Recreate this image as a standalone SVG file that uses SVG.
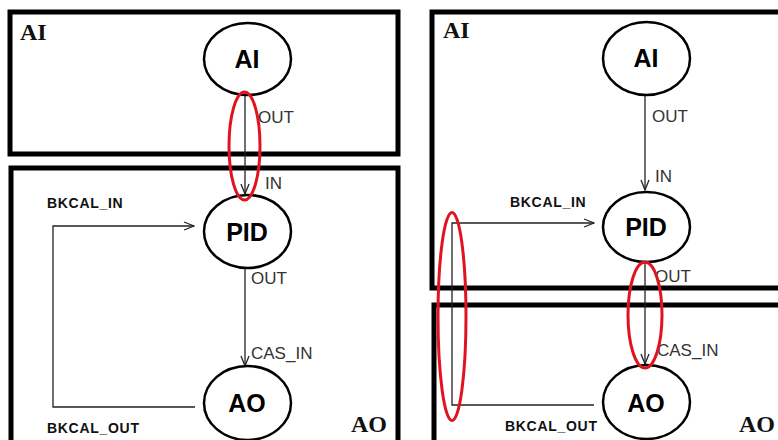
<svg xmlns="http://www.w3.org/2000/svg" width="778" height="440" viewBox="0 0 778 440">
<defs>
<marker id="arr" viewBox="0 0 12 10" refX="11" refY="5" markerWidth="12" markerHeight="10" markerUnits="userSpaceOnUse" orient="auto">
<path d="M1,1 L11,5 L1,9" fill="none" stroke="#222" stroke-width="1.3"/>
</marker>
<style>
.box{fill:none;stroke:#000;stroke-width:5}
.blk{font-family:"Liberation Serif",serif;font-weight:bold;font-size:24px;fill:#111}
.node ellipse{fill:#fff;stroke:#000;stroke-width:2.5}
.node text{font-family:"Liberation Sans",Arial,sans-serif;font-weight:bold;font-size:25px;fill:#000;text-anchor:middle}
.ln{fill:none;stroke:#222;stroke-width:1.3}
.pl{font-family:"Liberation Sans",Arial,sans-serif;font-size:17px;fill:#333}
.bk{font-family:"Liberation Sans",Arial,sans-serif;font-weight:bold;font-size:14px;letter-spacing:0.7px;fill:#111}
.hl{fill:none;stroke:#e0141e;stroke-width:3}
</style>
</defs>
<rect width="778" height="440" fill="#fff"/>
<g id="blocks">
<rect class="box" x="10" y="12" width="388" height="142"/>
<rect class="box" x="11" y="168" width="387" height="290"/>
<rect class="box" x="432" y="12" width="360" height="276"/>
<rect class="box" x="434" y="305" width="360" height="160"/>
<text class="blk" x="20" y="40">AI</text>
<text class="blk" x="351" y="432">AO</text>
<text class="blk" x="443" y="38">AI</text>
<text class="blk" x="739" y="432">AO</text>
</g>
<g id="connectors">
<line class="ln" x1="245" y1="95" x2="245" y2="194" marker-end="url(#arr)"/>
<line class="ln" x1="245" y1="268" x2="245" y2="366" marker-end="url(#arr)"/>
<polyline class="ln" points="195,407 53,407 53,226 194,226" marker-end="url(#arr)"/>
<line class="ln" x1="645" y1="95" x2="645" y2="190" marker-end="url(#arr)"/>
<line class="ln" x1="645" y1="262" x2="645" y2="364" marker-end="url(#arr)"/>
<polyline class="ln" points="594,405 452,405 452,223 594,223" marker-end="url(#arr)"/>
<text class="pl" x="258" y="123">OUT</text>
<text class="pl" x="265" y="189">IN</text>
<text class="pl" x="251" y="284">OUT</text>
<text class="pl" x="251" y="359">CAS_IN</text>
<text class="bk" x="47" y="208">BKCAL_IN</text>
<text class="bk" x="47" y="433">BKCAL_OUT</text>
<text class="pl" x="652" y="122">OUT</text>
<text class="pl" x="655" y="182">IN</text>
<text class="pl" x="655" y="282">OUT</text>
<text class="pl" x="657" y="356">CAS_IN</text>
<text class="bk" x="510" y="207">BKCAL_IN</text>
<text class="bk" x="505" y="431">BKCAL_OUT</text>
</g>
<g id="AI-left" class="node"><ellipse cx="247.5" cy="59" rx="43.5" ry="36"/><text x="247" y="68">AI</text></g>
<g id="PID-left" class="node"><ellipse cx="247.5" cy="231.5" rx="43.5" ry="36.5"/><text x="247" y="241">PID</text></g>
<g id="AO-left" class="node"><ellipse cx="247.5" cy="403" rx="43.5" ry="37"/><text x="247" y="412">AO</text></g>
<g id="AI-right" class="node"><ellipse cx="646.5" cy="58.5" rx="43.5" ry="36.5"/><text x="646" y="67">AI</text></g>
<g id="PID-right" class="node"><ellipse cx="646.5" cy="227" rx="43.5" ry="35"/><text x="646" y="236">PID</text></g>
<g id="AO-right" class="node"><ellipse cx="646.5" cy="402" rx="43.5" ry="37"/><text x="646" y="412">AO</text></g>
<g id="highlights">
<ellipse class="hl" cx="244.5" cy="146" rx="15.5" ry="54"/>
<ellipse class="hl" cx="452" cy="316.5" rx="14" ry="104"/>
<ellipse class="hl" cx="645" cy="315" rx="17" ry="53"/>
</g>
</svg>
